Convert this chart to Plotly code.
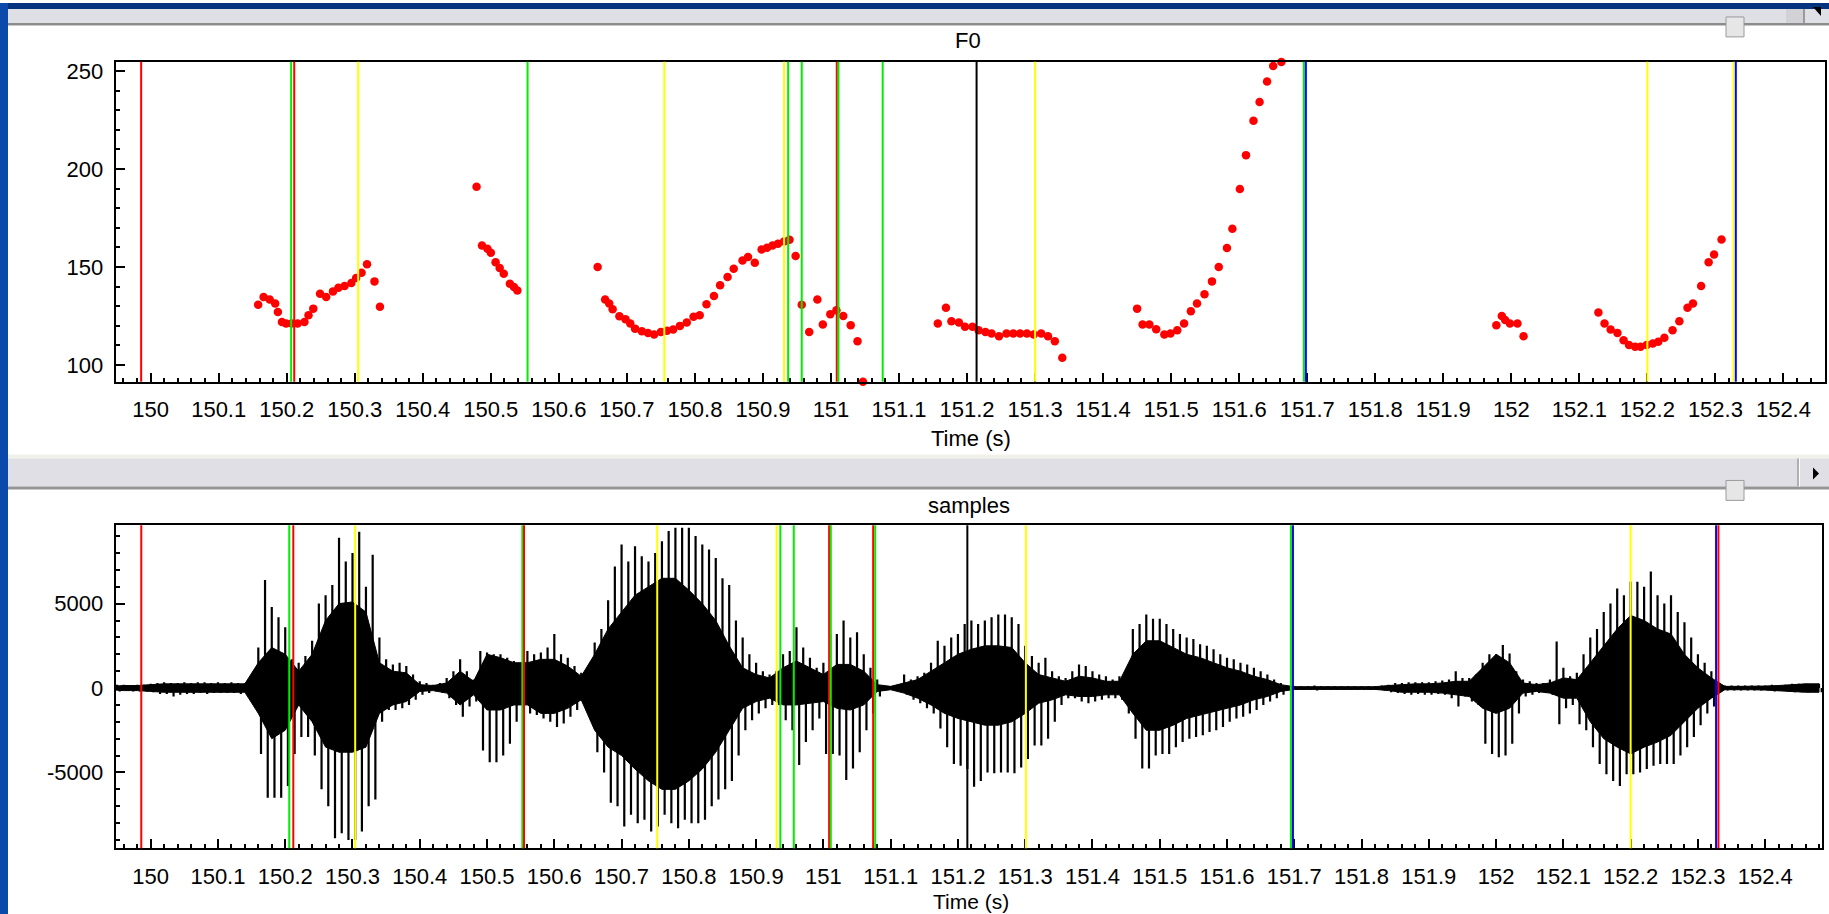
import numpy as np
import plotly.graph_objects as go

W, H = 1829, 914

# ---------------- F0 track (Hz) ----------------
f0_t = [
    150.158, 150.166, 150.175, 150.183, 150.187, 150.193, 150.199, 150.207, 150.216, 150.226,
    150.232, 150.239, 150.249, 150.258, 150.268, 150.276, 150.285, 150.295, 150.302, 150.310,
    150.318, 150.329, 150.337,
    150.479, 150.487, 150.495, 150.500, 150.507, 150.513, 150.519, 150.528, 150.534, 150.539,
    150.657, 150.668, 150.674, 150.679, 150.689, 150.698, 150.705, 150.712, 150.722, 150.731,
    150.740, 150.750, 150.759, 150.768, 150.778, 150.788, 150.798, 150.807, 150.817, 150.828,
    150.837, 150.848, 150.857, 150.870, 150.878, 150.888, 150.898, 150.906, 150.914, 150.922,
    150.931, 150.939, 150.948, 150.957, 150.968, 150.980, 150.988, 150.999, 151.008, 151.018,
    151.029, 151.039, 151.047,
    151.157, 151.169, 151.177, 151.188, 151.197, 151.208, 151.217, 151.227, 151.236, 151.247,
    151.258, 151.268, 151.278, 151.288, 151.298, 151.309, 151.319, 151.329, 151.340,
    151.450, 151.458, 151.468, 151.478, 151.490, 151.499, 151.509, 151.519, 151.529, 151.538,
    151.549, 151.560, 151.570, 151.582, 151.590, 151.601, 151.610, 151.621, 151.630, 151.641,
    151.650, 151.662,
    151.978, 151.986, 151.991, 151.998, 152.009, 152.018,
    152.128, 152.137, 152.146, 152.156, 152.165, 152.173, 152.182, 152.190, 152.199, 152.208,
    152.216, 152.225, 152.237, 152.247, 152.259, 152.267, 152.279, 152.290, 152.298, 152.309,
]
f0_hz = [
    130.8, 134.7, 133.4, 131.4, 127.1, 122.0, 121.2, 121.2, 121.2, 122.0,
    125.4, 128.8, 136.4, 134.7, 137.6, 139.5, 140.3, 141.9, 144.4, 147.1,
    151.4, 142.7, 129.7,
    191.0, 161.0, 159.3, 157.3, 152.5, 149.5, 146.6, 141.5, 139.8, 138.1,
    150.0, 133.4, 131.4, 128.5, 124.9, 123.4, 121.2, 118.6, 117.3, 116.4,
    115.6, 116.9, 117.5, 118.1, 120.0, 121.7, 124.6, 125.4, 131.0, 135.3,
    140.7, 144.9, 149.2, 153.4, 155.1, 152.2, 159.0, 159.8, 161.0, 161.9,
    163.1, 163.9, 155.6, 130.8, 116.9, 133.4, 120.7, 125.9, 128.0, 125.1,
    120.3, 112.2, 91.5,
    121.2, 129.2, 122.4, 121.7, 119.5, 119.5, 117.8, 116.9, 116.1, 114.7,
    116.1, 116.1, 116.1, 116.1, 115.6, 116.1, 114.7, 112.2, 103.7,
    128.8, 120.7, 120.7, 118.3, 115.6, 116.1, 117.8, 121.2, 127.5, 131.4,
    136.1, 142.7, 150.0, 159.7, 169.5, 189.8, 207.1, 224.6, 234.2, 244.6,
    252.5, 254.6,
    120.3, 125.1, 123.0, 121.2, 121.2, 114.7,
    126.8, 121.2, 118.1, 116.4, 112.7, 110.2, 109.3, 109.3, 110.2, 111.0,
    111.9, 113.9, 117.8, 122.4, 129.2, 131.4, 140.3, 152.5, 156.4, 164.1,
]

# ---------------- segment boundaries (time, colour) ----------------
f0_mark_t = [149.986, 150.2065, 150.211, 150.305, 150.554, 150.755, 150.931, 150.937,
             150.957, 151.0085, 151.011, 151.076, 151.214, 151.300, 151.695, 151.698,
             152.200, 152.3266, 152.330]
f0_mark_c = ["red", "green", "red", "yellow", "green", "yellow", "yellow", "green",
             "green", "red", "green", "green", "black", "yellow", "green", "blue",
             "yellow", "yellow", "blue"]
wav_mark_t = [149.986, 150.206, 150.212, 150.304, 150.5525, 150.555, 150.753, 150.9305,
              150.936, 150.956, 151.0085, 151.011, 151.074, 151.077, 151.214, 151.301,
              151.695, 151.698, 152.200, 152.327, 152.3305]
wav_mark_c = ["red", "green", "red", "yellow", "green", "red", "yellow", "yellow",
              "green", "green", "red", "green", "red", "green", "black", "yellow",
              "green", "blue", "yellow", "blue", "red"]

# ---------------- waveform: per-10 ms pulse peaks, from 149.95 s ----------------
peak_hi = [
    200, 200, 150, 200, 200, 250, 300, 350, 300, 300,
    350, 300, 350, 350, 300, 350, 300, 350, 300, 300,
    350, 2400, 6400, 4800, 4200, 3600, 1700, 1500, 1900, 2800,
    5000, 5500, 6100, 8900, 7500, 8000, 9250, 6000, 7900, 3000,
    1700, 1400, 1500, 1300, 800, 400, 300, 200, 300, 600,
    1000, 1700, 1000, 500, 2200, 2100, 2000, 2000, 1800, 1600,
    1200, 2200, 2000, 2100, 2400, 3200, 2000, 1800, 1300, 900,
    600, 2700, 3500, 5200, 7200, 8500, 7500, 8400, 7800, 7500,
    8000, 8700, 9300, 9500, 9500, 9500, 9000, 8500, 8200, 7700,
    6500, 6100, 4000, 3000, 2000, 1500, 1000, 800, 1000, 2000,
    2200, 3600, 2400, 1800, 1200, 1500, 3200, 3200, 4000, 3000,
    3300, 2000, 1200, 500, 100, 100, 100, 800, 500, 700,
    900, 1500, 2800, 2500, 3000, 3200, 3800, 4000, 3800, 4000,
    4200, 4350, 4350, 4200, 3800, 2500, 1900, 1500, 1800, 1000,
    700, 600, 1000, 1400, 1300, 1000, 800, 700, 500, 700,
    1000, 3500, 3800, 4350, 4100, 4100, 3800, 3500, 3200, 3000,
    2900, 2600, 2500, 2300, 2000, 1800, 1700, 1500, 1400, 1200,
    1000, 800, 500, 300, 100, 100, 100, 100, 150, 100,
    100, 100, 100, 100, 100, 100, 100, 100, 150, 200,
    300, 300, 350, 350, 350, 350, 400, 450, 500, 1000,
    600, 600, 800, 1500, 2000, 2000, 2550, 2050, 1000, 500,
    400, 300, 300, 500, 2750, 1200, 700, 900, 2000, 3000,
    3500, 4500, 5000, 5900, 5500, 6300, 6300, 6000, 6900, 5500,
    5000, 5500, 4500, 3900, 3000, 2000, 1500, 1000, 150, 150,
    150, 150, 150, 150, 150, 150, 200, 150, 200, 250,
    250, 250, 200, 250,
]
peak_lo = [
    -200, -150, -200, -200, -200, -250, -350, -350, -500, -400,
    -350, -350, -300, -350, -300, -300, -300, -300, -350, -350,
    -450, -3900, -6500, -6500, -6500, -5800, -3900, -2900, -2900, -4000,
    -6000, -7000, -8900, -8600, -9000, -9000, -8500, -7000, -6600, -2000,
    -1300, -1300, -1200, -1000, -700, -400, -300, -200, -300, -600,
    -1000, -1700, -1100, -800, -3700, -4400, -4400, -4000, -3300, -2000,
    -1500, -1500, -1600, -1800, -2000, -2300, -2100, -1700, -1300, -900,
    -600, -3800, -5000, -6800, -7000, -8200, -7500, -8000, -7800, -8500,
    -8200, -7500, -8000, -8300, -7800, -8000, -8000, -7800, -7000, -6600,
    -6000, -5500, -4000, -2500, -1900, -1500, -1200, -1000, -1000, -1900,
    -2500, -4560, -3200, -2500, -1800, -3900, -3900, -4000, -5450, -4760,
    -3800, -2500, -1500, -500, -100, -100, -100, -400, -700, -900,
    -1200, -1500, -2400, -3500, -4500, -4600, -4800, -5850, -5500, -5000,
    -5050, -5000, -5000, -5050, -4700, -4200, -3400, -3400, -3000, -2000,
    -1000, -600, -600, -800, -900, -800, -700, -600, -600, -700,
    -1500, -3000, -4760, -4760, -4000, -3900, -3900, -3500, -3200, -3000,
    -2900, -2800, -2600, -2500, -2300, -2000, -1800, -1700, -1500, -1300,
    -1000, -800, -600, -400, -100, -100, -100, -100, -150, -100,
    -100, -100, -100, -100, -100, -100, -100, -100, -150, -250,
    -300, -350, -400, -350, -400, -400, -350, -400, -600, -1100,
    -500, -800, -1000, -3300, -3900, -4100, -4000, -3300, -1500, -500,
    -400, -300, -300, -400, -2150, -1200, -1000, -2150, -2500, -3500,
    -4500, -5100, -5500, -5800, -5100, -5100, -5000, -4800, -4600, -4500,
    -4500, -4500, -4000, -3500, -2900, -2200, -1500, -1100, -150, -150,
    -150, -150, -150, -150, -150, -150, -200, -150, -200, -250,
    -250, -250, -200, -250,
]

# dense body of the waveform, per-20 ms, from 149.94 s
body_hi = [
    100, 150, 150, 200, 250, 250, 250, 250, 250, 250,
    250, 1500, 2400, 2000, 1000, 2000, 4000, 5000, 5100, 4500,
    1500, 1000, 900, 200, 150, 300, 1000, 400, 2000, 1800,
    1500, 1500, 1700, 1700, 1300, 700, 2000, 3500, 4500, 5500,
    6000, 6500, 6500, 5800, 5000, 4000, 2500, 1200, 800, 600,
    1200, 1600, 1200, 800, 1400, 1400, 1000, 200, 100, 300,
    500, 1000, 1500, 2000, 2300, 2500, 2500, 2400, 1500, 800,
    600, 400, 700, 600, 400, 400, 2000, 2800, 2800, 2400,
    2000, 1800, 1500, 1200, 1000, 700, 500, 200, 80, 80,
    80, 80, 80, 80, 80, 150, 200, 250, 250, 300,
    400, 400, 1200, 2000, 1500, 300, 200, 300, 600, 500,
    1500, 2500, 3500, 4300, 4000, 3500, 3200, 2000, 1200, 600,
    100, 100, 100, 120, 150, 200, 250, 250,
]
body_lo = [
    -100, -150, -150, -200, -250, -250, -250, -250, -250, -250,
    -250, -1500, -3000, -2500, -1000, -2000, -3500, -3800, -3800, -3500,
    -1500, -1000, -800, -200, -150, -300, -1000, -400, -1300, -1300,
    -1000, -1000, -1500, -1500, -1200, -700, -2500, -3500, -4000, -4800,
    -5500, -6000, -6000, -5500, -4800, -3800, -2500, -1200, -800, -600,
    -1000, -1000, -900, -800, -1200, -1300, -1000, -200, -100, -300,
    -600, -1000, -1500, -1800, -2000, -2200, -2200, -2000, -1500, -900,
    -700, -400, -500, -500, -400, -400, -1500, -2500, -2500, -2200,
    -1800, -1600, -1400, -1200, -1000, -700, -500, -200, -80, -80,
    -80, -80, -80, -80, -80, -150, -250, -250, -250, -300,
    -400, -500, -1200, -1500, -1200, -300, -200, -300, -600, -600,
    -2000, -3000, -3500, -3900, -3500, -3200, -2800, -2000, -1200, -600,
    -100, -100, -100, -120, -150, -200, -250, -250,
]

# ---------------- axes ----------------
x_tick_text = ["150", "150.1", "150.2", "150.3", "150.4", "150.5", "150.6", "150.7",
               "150.8", "150.9", "151", "151.1", "151.2", "151.3", "151.4", "151.5",
               "151.6", "151.7", "151.8", "151.9", "152", "152.1", "152.2", "152.3", "152.4"]
x_tick_vals = [float(s) for s in x_tick_text]
f0_tick_vals = [100, 150, 200, 250]
f0_tick_text = ["100", "150", "200", "250"]
wav_tick_vals = [-5000, 0, 5000]
wav_tick_text = ["-5000", "0", "5000"]

f0_xrange = [149.9486, 152.4605]
f0_yrange = [91.5, 254.7]
wav_xrange = [149.948, 152.4849]
wav_yrange = [-9486, 9640]

COLORS = {"red": "#ff0000", "green": "#00ee00", "yellow": "#ffff00",
          "blue": "#0000ff", "black": "#000000"}
FONT = "Liberation Sans Narrow, Arial Narrow, Liberation Sans, Arial, sans-serif"


def px(x):
    return x / W


def py(y):
    return 1 - y / H


peak_t = np.round(149.95 + 0.01 * np.arange(len(peak_hi)), 3)
body_t = np.round(149.94 + 0.02 * np.arange(len(body_hi)), 3)

fig = go.Figure()

# F0 dots
fig.add_trace(go.Scatter(
    x=f0_t, y=f0_hz, mode="markers", xaxis="x", yaxis="y",
    marker=dict(color="#ff0000", size=8.5, line=dict(width=0)),
    cliponaxis=False, hoverinfo="skip", showlegend=False))

# waveform body
fig.add_trace(go.Scatter(
    x=list(body_t) + list(body_t[::-1]), y=body_hi + body_lo[::-1],
    fill="toself", fillcolor="#000000", mode="lines",
    line=dict(color="#000000", width=1), xaxis="x2", yaxis="y2",
    hoverinfo="skip", showlegend=False))

# waveform pulses (upward and downward excursions)
ux, uy, dx, dy = [], [], [], []
for t, hi, lo in zip(peak_t, peak_hi, peak_lo):
    ux += [t, t, None]
    uy += [0, hi, None]
    dx += [t + 0.004, t + 0.004, None]
    dy += [0, lo, None]
for xs, ys in ((ux, uy), (dx, dy)):
    fig.add_trace(go.Scatter(
        x=xs, y=ys, mode="lines", line=dict(color="#000000", width=2.2),
        xaxis="x2", yaxis="y2", hoverinfo="skip", showlegend=False,
        connectgaps=False))

shapes = []

# boundary markers
for t, c in zip(f0_mark_t, f0_mark_c):
    shapes.append(dict(type="line", xref="x", yref="y domain", x0=t, x1=t, y0=0, y1=1,
                       line=dict(color=COLORS[c], width=2), layer="above"))
for t, c in zip(wav_mark_t, wav_mark_c):
    shapes.append(dict(type="line", xref="x2", yref="y2 domain", x0=t, x1=t, y0=0, y1=1,
                       line=dict(color=COLORS[c], width=2), layer="above"))


def rect(x0, y0, x1, y1, fill, line_color=None, lw=0):
    return dict(type="rect", xref="paper", yref="paper",
                x0=px(x0), x1=px(x1), y0=py(y1), y1=py(y0),
                fillcolor=fill, line=dict(color=line_color or fill, width=lw),
                layer="above")


def tri(pts, fill):
    path = "M " + " L ".join(f"{px(x)},{py(y)}" for x, y in pts) + " Z"
    return dict(type="path", xref="paper", yref="paper", path=path,
                fillcolor=fill, line=dict(color=fill, width=0), layer="above")


# window frame
shapes += [
    rect(0, 0, W, 6, "#06337e"),
    rect(8, 6, W, 20, "#dfdfe6"),
    rect(8, 20, W, 22, "#8c8c8c"),
    rect(8, 22, W, 23, "#c8c8c8"),
    rect(1786, 6, 1803, 20, "#d2d2d6"),
    rect(1803, 6, 1805, 20, "#9a9a9a"),
    tri([(1813, 4), (1821, 4), (1821, 13)], "#000000"),
    rect(1726, 14, 1744, 34, "#e6e6e6", "#9a9a9a", 1),
    rect(8, 453, W, 457, "#f1f1ea"),
    rect(8, 457, W, 485, "#dfdfe5"),
    rect(8, 485, W, 488, "#959595"),
    rect(1797, 457, 1799, 485, "#b0b0b0"),
    rect(1799, 457, 1800, 485, "#ffffff"),
    tri([(1813, 466), (1819, 472), (1813, 478)], "#000000"),
    rect(1726, 479, 1744, 499, "#e6e6e6", "#9a9a9a", 1),
    rect(0, 0, 8, H, "#0b4aab"),
]

axis_common = dict(
    showline=True, linecolor="#000000", linewidth=2, mirror=True,
    ticks="inside", ticklen=9, tickwidth=2, tickcolor="#000000",
    showgrid=False, zeroline=False, tickmode="array",
    tickfont=dict(family=FONT, size=22, color="#000000"),
    fixedrange=True,
)

fig.update_layout(
    width=W, height=H,
    margin=dict(l=0, r=0, t=0, b=0),
    paper_bgcolor="#ffffff", plot_bgcolor="#ffffff",
    showlegend=False,
    xaxis=dict(axis_common, domain=[px(115.7), px(1824.6)], range=f0_xrange, anchor="y",
               tickvals=x_tick_vals, ticktext=x_tick_text, ticklabelstandoff=7,
               minor=dict(tickmode="linear", tick0=150, dtick=0.02, ticks="inside",
                          ticklen=4, tickwidth=2, tickcolor="#000000")),
    yaxis=dict(axis_common, domain=[py(380), py(59)], range=f0_yrange, anchor="x",
               tickvals=f0_tick_vals, ticktext=f0_tick_text, ticklabelstandoff=6,
               minor=dict(tickmode="linear", tick0=100, dtick=10, ticks="inside",
                          ticklen=4, tickwidth=2, tickcolor="#000000")),
    xaxis2=dict(axis_common, domain=[px(115.7), px(1822.3)], range=wav_xrange, anchor="y2",
                tickvals=x_tick_vals, ticktext=x_tick_text, ticklabelstandoff=7,
                minor=dict(tickmode="linear", tick0=150, dtick=0.02, ticks="inside",
                           ticklen=4, tickwidth=2, tickcolor="#000000")),
    yaxis2=dict(axis_common, domain=[py(848), py(524)], range=wav_yrange, anchor="x2",
                tickvals=wav_tick_vals, ticktext=wav_tick_text, ticklabelstandoff=6,
                minor=dict(tickmode="linear", tick0=0, dtick=1000, ticks="inside",
                           ticklen=4, tickwidth=2, tickcolor="#000000")),
    shapes=shapes,
)


def label(text, x, y, size=22):
    fig.add_annotation(text=text, xref="paper", yref="paper", x=px(x), y=py(y),
                       xanchor="center", yanchor="middle", showarrow=False,
                       font=dict(family=FONT, size=size, color="#000000"))


label("F0", 968, 38)
label("Time (s)", 971, 437)
label("samples", 969, 504)
label("Time (s)", 971, 901, size=21)

fig.write_html("out.html", config={"displayModeBar": False})
